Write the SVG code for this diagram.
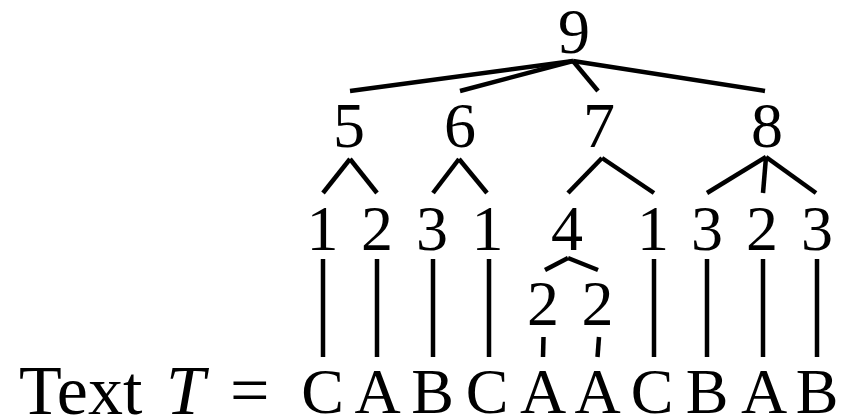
<svg xmlns="http://www.w3.org/2000/svg" width="846" height="418" viewBox="0 0 846 418">
  <style>
    text { font-family: "Liberation Serif", "Times New Roman", serif; font-size: 64px; fill: #000; text-anchor: middle; }
    .edge { stroke: #000; stroke-width: 4.5; stroke-linecap: butt; fill: none; }
    .label { text-anchor: start; font-size: 70px; }
  </style>
  <rect width="846" height="418" fill="#fff"/>

  <!-- connectors -->
  <g id="connectors" class="edge">
    <!-- root 9 -->
    <line x1="573" y1="61" x2="350" y2="91"/>
    <line x1="573" y1="61" x2="460" y2="91"/>
    <line x1="573" y1="61" x2="598" y2="91"/>
    <line x1="573" y1="61" x2="765" y2="91"/>
    <!-- 5 -->
    <line x1="350" y1="159" x2="323" y2="193"/>
    <line x1="350" y1="159" x2="377" y2="193"/>
    <!-- 6 -->
    <line x1="459" y1="159" x2="433" y2="193"/>
    <line x1="459" y1="159" x2="487" y2="193"/>
    <!-- 7 -->
    <line x1="602" y1="158" x2="568" y2="193"/>
    <line x1="602" y1="158" x2="654" y2="193"/>
    <!-- 8 -->
    <line x1="766" y1="157" x2="707" y2="193"/>
    <line x1="766" y1="157" x2="763" y2="193"/>
    <line x1="766" y1="157" x2="816" y2="193"/>
    <!-- 4 -->
    <line x1="568" y1="258" x2="545" y2="270"/>
    <line x1="568" y1="258" x2="598" y2="270"/>
    <!-- leaves down to the text -->
    <line x1="323" y1="259" x2="323" y2="357"/>
    <line x1="377" y1="259" x2="377" y2="357"/>
    <line x1="433" y1="259" x2="433" y2="357"/>
    <line x1="489" y1="259" x2="489" y2="357"/>
    <line x1="654" y1="259" x2="654" y2="357"/>
    <line x1="707" y1="259" x2="707" y2="357"/>
    <line x1="763" y1="259" x2="763" y2="357"/>
    <line x1="817" y1="259" x2="817" y2="357"/>
    <line x1="543.5" y1="337" x2="543" y2="357"/>
    <line x1="599" y1="337" x2="597.5" y2="357"/>
  </g>

  <!-- nodes -->
  <g id="n9"><text x="574" y="53">9</text></g>
  <g id="n5"><text x="349" y="147">5</text></g>
  <g id="n6"><text x="460" y="147">6</text></g>
  <g id="n7"><text x="599" y="147">7</text></g>
  <g id="n8"><text x="767" y="147">8</text></g>

  <g id="l1a"><text x="322.5" y="250">1</text></g>
  <g id="l2a"><text x="377" y="250">2</text></g>
  <g id="l3a"><text x="432" y="250">3</text></g>
  <g id="l1b"><text x="487.5" y="250">1</text></g>
  <g id="n4"><text x="567" y="250">4</text></g>
  <g id="l1c"><text x="653" y="250">1</text></g>
  <g id="l3b"><text x="707" y="250">3</text></g>
  <g id="l2b"><text x="762" y="250">2</text></g>
  <g id="l3c"><text x="817" y="250">3</text></g>

  <g id="l2c"><text x="543" y="325">2</text></g>
  <g id="l2d"><text x="597.5" y="325">2</text></g>

  <!-- the text T -->
  <g id="text-T">
    <text class="label" x="19" y="414">Text</text>
    <text class="label" x="166" y="414" font-style="italic">T</text>
    <text class="label" x="230" y="414">=</text>
    <text x="322.5" y="413">C</text>
    <text x="377.5" y="413">A</text>
    <text x="432.5" y="413">B</text>
    <text x="487" y="413">C</text>
    <text x="543" y="413">A</text>
    <text x="597.5" y="413">A</text>
    <text x="652" y="413">C</text>
    <text x="707" y="413">B</text>
    <text x="764" y="413">A</text>
    <text x="817" y="413">B</text>
  </g>
</svg>
